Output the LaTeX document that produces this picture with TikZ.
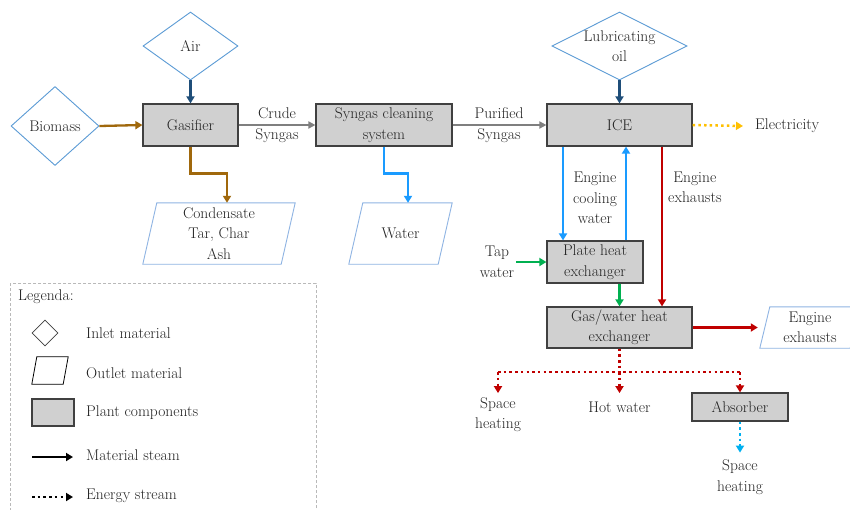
\documentclass[tikz,border=0pt]{standalone}
\usepackage{fontspec}
\usetikzlibrary{arrows.meta,shapes.geometric}
\definecolor{txt}{HTML}{222222}
\definecolor{inblue}{HTML}{5B9BD5}
\definecolor{outblue}{HTML}{8FB4E3}
\definecolor{boxfill}{HTML}{D0D0D0}
\definecolor{boxdraw}{HTML}{404040}
\definecolor{cbrown}{HTML}{A0680C}
\definecolor{cgray}{HTML}{7F7F7F}
\definecolor{cdblue}{HTML}{1F4E79}
\definecolor{cblue}{HTML}{1A9BFF}
\definecolor{cgreen}{HTML}{00B050}
\definecolor{cred}{HTML}{C00000}
\definecolor{cyellow}{HTML}{FFC000}
\definecolor{cltblue}{HTML}{00B0F0}
\begin{document}
\begin{tikzpicture}[x=1pt,y=-1pt,
  font=\fontsize{15.5}{20.5}\selectfont, text=txt,
  inlet/.style={diamond, draw=inblue, line width=0.9pt, inner sep=0pt},
  comp/.style={rectangle, draw=boxdraw, fill=boxfill, line width=1.2pt, align=center, inner sep=0pt},
  outbox/.style={rectangle, inner sep=0pt},
  para/.style={draw=outblue, line width=0.9pt},
  lbl/.style={align=center, inner sep=2pt},
  flow/.style={line width=2.3pt, -{Triangle[length=7pt,width=8pt]}},
  gflow/.style={line width=2pt, -{Triangle[length=7pt,width=7pt]}},
  eline/.style={line width=2.5pt, dash pattern=on 2.5pt off 3.2pt},
  eflow/.style={eline, -{Triangle[length=7pt,width=8pt]}},
]
\clip (0,0) rectangle (850,509);
\fill[white] (0,0) rectangle (850,509);

% inlet diamonds
\node[inlet, minimum width=95pt, minimum height=68pt] (air) at (190.5,46) {};
\node[lbl] (airt) at (air) {Air};
\node[inlet, minimum width=88pt, minimum height=79pt] (bio) at (55,126) {};
\node[lbl] (biot) at (bio) {Biomass};
\node[inlet, minimum width=135pt, minimum height=68pt] (oil) at (619.5,46) {};
\node[lbl] (oilt) at (oil) {Lubricating\\oil};

% components
\node[comp, minimum width=95pt, minimum height=42pt] (gas) at (190.5,125) {Gasifier};
\node[comp, minimum width=136pt, minimum height=42pt] (clean) at (384,125) {Syngas cleaning\\system};
\node[comp, minimum width=145pt, minimum height=42pt] (ice) at (619.5,125) {ICE};
\node[comp, minimum width=96pt, minimum height=42pt] (phe) at (595,262) {Plate heat\\exchanger};
\node[comp, minimum width=145pt, minimum height=41pt] (gw) at (619.5,327.5) {Gas/water heat\\exchanger};
\node[comp, minimum width=96pt, minimum height=28pt] (abs) at (740,407) {Absorber};

% outlet parallelograms
\node[outbox, minimum width=152pt, minimum height=61pt] (cond) at (219,233.5) {};
\draw[para] ([xshift=14]cond.north west) -- (cond.north east) -- ([xshift=-14]cond.south east) -- (cond.south west) -- cycle;
\node[lbl] (condt) at (cond) {Condensate\\Tar, Char\\Ash};
\node[outbox, minimum width=103pt, minimum height=61pt] (water) at (400.5,233.5) {};
\draw[para] ([xshift=14]water.north west) -- (water.north east) -- ([xshift=-14]water.south east) -- (water.south west) -- cycle;
\node[lbl] (watert) at (water) {Water};
\node[outbox, minimum width=100pt, minimum height=41pt] (exh) at (810,327.5) {};
\draw[para] ([xshift=10]exh.north west) -- (exh.north east) -- ([xshift=-10]exh.south east) -- (exh.south west) -- cycle;
\node[lbl] (exht) at (exh) {Engine\\exhausts};

% free labels
\node[lbl] (crude) at (277,125) {Crude\\Syngas};
\node[lbl] (puri) at (499,125) {Purified\\Syngas};
\node[lbl, anchor=west] (elec) at (753,126) {Electricity};
\node[lbl] (cool) at (595,198) {Engine\\cooling\\water};
\node[lbl, anchor=west] (exlab) at (666,187.5) {Engine\\exhausts};
\node[lbl] (tap) at (497,262) {Tap\\water};
\node[lbl] (sh1) at (498,414.5) {Space\\heating};
\node[lbl] (hot) at (619.5,407) {Hot water};
\node[lbl] (sh2) at (740,477) {Space\\heating};

% connectors
\draw[flow, cdblue] (air.south) -- (gas.north);
\draw[flow, cbrown] (bio.east) -- (gas.west);
\draw[gflow, cgray] (gas.east) -- (clean.west);
\draw[flow, cbrown] (gas.south) -- ++(0,27) -| ([xshift=8]cond.north);
\draw[flow, cblue] (clean.south) -- ++(0,27) -| ([xshift=7.5]water.north);
\draw[gflow, cgray] (clean.east) -- (ice.west);
\draw[flow, cdblue] (oil.south) -- (ice.north);
\draw[eflow, cyellow] (ice.east) -- ([xshift=-10]elec.west);
\draw[flow, cblue] ([xshift=-32]phe.north |- ice.south) -- ([xshift=-32]phe.north);
\draw[flow, cblue] ([xshift=31]phe.north) -- ([xshift=31]phe.north |- ice.south);
\draw[flow, cred] ([xshift=42.5]ice.south) -- ([xshift=42.5]gw.north);
\draw[flow, cgreen] (tap.east) -- (phe.west);
\draw[flow, cgreen] (phe.south -| gw.north) -- (gw.north);
\draw[flow, cred] (gw.east) -- ([xshift=-2]exh.west);
\coordinate (sp) at ([yshift=-23.5]gw.south);
\draw[eline, cred] (gw.south) -- (sp);
\draw[eline, cred] (sp -| sh1) -- (sp -| abs);
\draw[eflow, cred] (sp -| sh1) -- ++(0,21);
\draw[eflow, cred] (sp) -- ++(0,21);
\draw[eflow, cred] (sp -| abs) -- (abs.north);
\draw[eflow, cltblue] (abs.south) -- ++(0,31);

% legend
\draw[gray!55, line width=0.8pt, dash pattern=on 3pt off 2pt] (10,283) rectangle (316,530);
\node[lbl, anchor=west] (leg) at (16,297) {Legenda:};
\node[diamond, draw=boxdraw, line width=0.8pt, inner sep=0pt, minimum width=26pt, minimum height=26pt] (lg1) at (45,333) {};
\node[outbox, minimum width=36pt, minimum height=27pt] (lg2) at (50,370.5) {};
\draw[black, line width=0.8pt] ([xshift=5]lg2.north west) -- (lg2.north east) -- ([xshift=-5]lg2.south east) -- (lg2.south west) -- cycle;
\node[comp, minimum width=42pt, minimum height=27pt] (lg3) at (53,412.5) {};
\coordinate (lg4a) at (32,457);
\coordinate (lg4b) at (73,457);
\draw[flow, black] (lg4a) -- (lg4b);
\coordinate (lg5a) at (32,497);
\coordinate (lg5b) at (73,497);
\draw[eflow, black] (lg5a) -- (lg5b);
\node[lbl, anchor=west] (lt1) at (84,333) {Inlet material};
\node[lbl, anchor=west] (lt2) at (84,373) {Outlet material};
\node[lbl, anchor=west] (lt3) at (84,413) {Plant components};
\node[lbl, anchor=west] (lt4) at (84,455) {Material steam};
\node[lbl, anchor=west] (lt5) at (84,496) {Energy stream};
\end{tikzpicture}
\end{document}
